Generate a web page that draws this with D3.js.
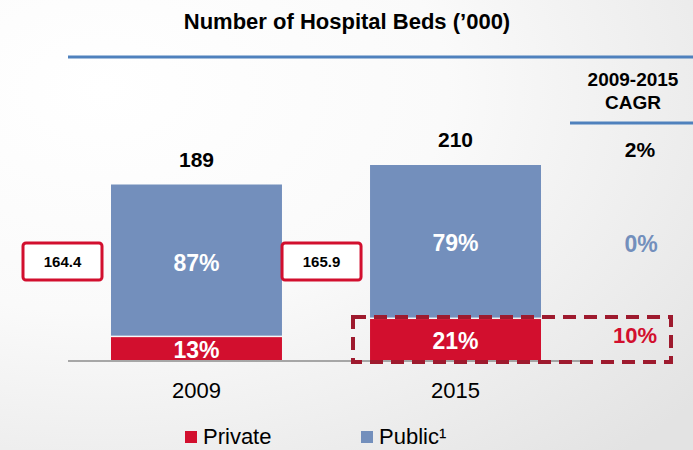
<!DOCTYPE html>
<html>
<head>
<meta charset="utf-8">
<script src="https://cdn.jsdelivr.net/npm/d3@7"></script>
<style>
  html, body { margin: 0; padding: 0; }
  body { width: 693px; height: 450px; overflow: hidden; font-family: "Liberation Sans", Arial, sans-serif; }
</style>
</head>
<body>
<div id="chartArea"></div>
<script>
// Chart data
const years = ['2009', '2015'];
const privateBeds = [24.6, 44.1];
const publicBeds = [164.4, 165.9];
const totals = [189, 210];
const privateShare = ['13%', '21%'];
const publicShare = ['87%', '79%'];
const cagrTotal = '2%';
const cagrPublic = '0%';
const cagrPrivate = '10%';
const seriesNames = ['Private', 'Public¹'];

const red = '#d20f2e';
const blue = '#738fbc';
const darkRed = '#9e1a2e';

let width = 693, height = 450;

let svg = d3.select('#chartArea')
    .append('svg')
    .attr('width', width)
    .attr('height', height);

// background, light grey toward the right
let defs = svg.append('defs');
let grad = defs.append('radialGradient')
    .attr('id', 'bg')
    .attr('cx', '0.15').attr('cy', '0.2').attr('r', '1.1');
grad.append('stop').attr('offset', '0%').attr('stop-color', '#ffffff');
grad.append('stop').attr('offset', '45%').attr('stop-color', '#fafafa');
grad.append('stop').attr('offset', '100%').attr('stop-color', '#e3e3e3');
svg.append('rect').attr('width', width).attr('height', height).attr('fill', 'url(#bg)');

// Title
svg.append('text')
    .attr('x', 347).attr('y', 29)
    .attr('text-anchor', 'middle')
    .style('font-size', '22px').style('font-weight', 'bold')
    .text('Number of Hospital Beds (\u2019000)');

svg.append('line')
    .attr('x1', 68).attr('x2', 693).attr('y1', 57).attr('y2', 57)
    .attr('stroke', '#4f81bd').attr('stroke-width', 3);

// CAGR header
svg.append('text')
    .attr('x', 633).attr('y', 86)
    .attr('text-anchor', 'middle')
    .style('font-size', '19px').style('font-weight', 'bold')
    .text('2009-2015');
svg.append('text')
    .attr('x', 633).attr('y', 109)
    .attr('text-anchor', 'middle')
    .style('font-size', '19px').style('font-weight', 'bold')
    .text('CAGR');
svg.append('line')
    .attr('x1', 570).attr('x2', 693).attr('y1', 123).attr('y2', 123)
    .attr('stroke', '#4f81bd').attr('stroke-width', 3);

let xScale = d3.scaleBand()
    .domain(years)
    .range([68, 584])
    .paddingInner(0.34)
    .paddingOuter(0.166);

let yScale = d3.scaleLinear()
    .domain([0, 210])
    .range([360, 165]);

let gap = 1.5;

// Private (bottom)
svg.selectAll('.private')
    .data(years)
    .enter().append('rect')
    .attr('x', d => xScale(d))
    .attr('width', xScale.bandwidth())
    .attr('y', (d, i) => yScale(privateBeds[i]))
    .attr('height', (d, i) => yScale(0) - yScale(privateBeds[i]))
    .attr('fill', red);

// Public (top)
svg.selectAll('.public')
    .data(years)
    .enter().append('rect')
    .attr('x', d => xScale(d))
    .attr('width', xScale.bandwidth())
    .attr('y', (d, i) => yScale(totals[i]))
    .attr('height', (d, i) => yScale(privateBeds[i]) - yScale(totals[i]) - gap)
    .attr('fill', blue);

// Baseline
svg.append('line')
    .attr('x1', 68).attr('x2', 585)
    .attr('y1', 361).attr('y2', 361)
    .attr('stroke', '#8c8c8c').attr('stroke-width', 1.5);

let cx = d => xScale(d) + xScale.bandwidth() / 2;

// Share labels
svg.selectAll('.pubLabel')
    .data(years)
    .enter().append('text')
    .attr('x', cx)
    .attr('y', (d, i) => yScale(totals[i]) + 86)
    .attr('text-anchor', 'middle')
    .attr('fill', '#fff')
    .style('font-size', '23px').style('font-weight', 'bold')
    .text((d, i) => publicShare[i]);

svg.selectAll('.privLabel')
    .data(years)
    .enter().append('text')
    .attr('x', cx)
    .attr('y', (d, i) => (yScale(privateBeds[i]) + yScale(0)) / 2 + 9)
    .attr('text-anchor', 'middle')
    .attr('fill', '#fff')
    .style('font-size', '23px').style('font-weight', 'bold')
    .text((d, i) => privateShare[i]);

// Totals
svg.selectAll('.total')
    .data(years)
    .enter().append('text')
    .attr('x', cx)
    .attr('y', (d, i) => yScale(totals[i]) - 18)
    .attr('text-anchor', 'middle')
    .style('font-size', '21px').style('font-weight', 'bold')
    .text((d, i) => totals[i]);

// x axis labels
svg.selectAll('.year')
    .data(years)
    .enter().append('text')
    .attr('x', cx)
    .attr('y', 398)
    .attr('text-anchor', 'middle')
    .style('font-size', '22px')
    .text(d => d);

// Public bed callout boxes, left of each bar
svg.selectAll('.callout')
    .data(years)
    .enter().append('rect')
    .attr('x', d => xScale(d) - 88)
    .attr('y', 243)
    .attr('width', 79).attr('height', 37)
    .attr('rx', 3)
    .attr('fill', '#fff')
    .attr('stroke', red).attr('stroke-width', 3);

svg.selectAll('.calloutText')
    .data(years)
    .enter().append('text')
    .attr('x', d => xScale(d) - 48.5)
    .attr('y', 267)
    .attr('text-anchor', 'middle')
    .style('font-size', '15px').style('font-weight', 'bold')
    .text((d, i) => publicBeds[i].toFixed(1));

// Dashed highlight round private 2015 and its CAGR
svg.append('rect')
    .attr('x', 353).attr('y', 317)
    .attr('width', 318).attr('height', 45)
    .attr('fill', 'none')
    .attr('stroke', darkRed).attr('stroke-width', 4)
    .attr('stroke-dasharray', '13,8');

// CAGR values
svg.append('text')
    .attr('x', 640).attr('y', 157)
    .attr('text-anchor', 'middle')
    .style('font-size', '21px').style('font-weight', 'bold')
    .text(cagrTotal);
svg.append('text')
    .attr('x', 641).attr('y', 252)
    .attr('text-anchor', 'middle')
    .attr('fill', blue)
    .style('font-size', '23px').style('font-weight', 'bold')
    .text(cagrPublic);
svg.append('text')
    .attr('x', 635).attr('y', 343)
    .attr('text-anchor', 'middle')
    .attr('fill', red)
    .style('font-size', '22px').style('font-weight', 'bold')
    .text(cagrPrivate);

// Legend
let legend = svg.selectAll('.legend')
    .data(seriesNames)
    .enter().append('g')
    .attr('transform', (d, i) => 'translate(' + (185 + i * 176) + ',431)');
legend.append('rect')
    .attr('width', 12).attr('height', 12)
    .attr('fill', (d, i) => i === 0 ? red : blue);
legend.append('text')
    .attr('x', 18).attr('y', 13)
    .style('font-size', '22px')
    .text(d => d);
</script>
</body>
</html>
